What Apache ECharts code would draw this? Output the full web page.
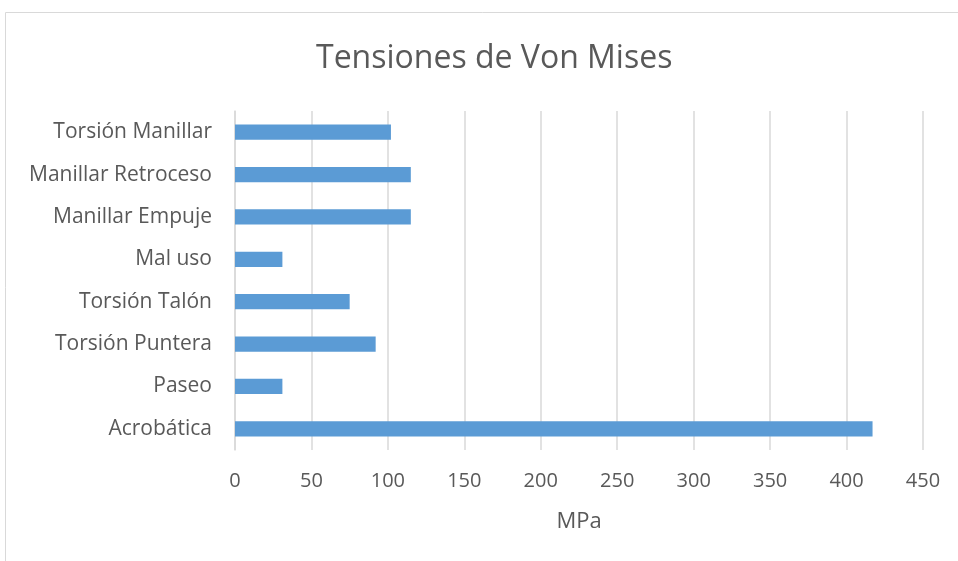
<!DOCTYPE html>
<html><head><meta charset="utf-8">
<script src="https://cdn.jsdelivr.net/npm/echarts@6/dist/echarts.min.js"></script>
<style>html,body{margin:0;padding:0;background:#fff}#c{width:958px;height:561px}</style>
</head><body><div id="c"></div>
<script>
const categories = ["Acrobática","Paseo","Torsión Puntera","Torsión Talón","Mal uso","Manillar Empuje","Manillar Retroceso","Torsión Manillar"];
const values = [417, 31, 92, 75, 31, 115, 115, 102];
const chartTitle = "Tensiones de Von Mises";
const xAxisName = "MPa";

const chart = echarts.init(document.getElementById('c'));
const font = '"Open Sans", sans-serif';
chart.setOption({
  animation: false,
  graphic: [{type:'rect', shape:{x:5.5,y:12.5,width:960,height:560}, style:{fill:'none',stroke:'#d9d9d9',lineWidth:1}}],
  title: {text: chartTitle, left: 311, top: 38, textStyle:{fontFamily:font, fontWeight:'normal', fontSize:32, color:'#595959'}},
  grid: {left: 235, right: 35, top: 111, height: 339},
  xAxis: {type:'value', min:0, max:450, interval:50,
    name: xAxisName, nameLocation:'middle', nameGap:61,
    nameTextStyle:{fontFamily:font, fontSize:22, color:'#595959'},
    axisLine:{show:false}, axisTick:{show:false},
    axisLabel:{fontFamily:font, fontSize:20, color:'#595959', margin:21},
    splitLine:{lineStyle:{color:'#d9d9d9', width:1.5}}},
  yAxis: {type:'category', data: categories,
    axisLine:{show:true, lineStyle:{color:'#d9d9d9', width:1.5}}, axisTick:{show:false},
    axisLabel:{fontFamily:font, fontSize:21, color:'#595959', margin:23}},
  series: [{type:'bar', data: values, barCategoryGap:'64%', itemStyle:{color:'#5b9bd5'}}]
});
</script></body></html>
